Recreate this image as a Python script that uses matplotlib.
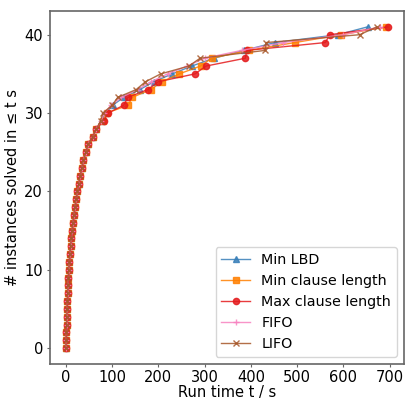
import matplotlib
matplotlib.use("Agg")
import matplotlib.pyplot as plt

# number of instances solved: 0 .. 41
solved = list(range(42))

# the first 29 instances are solved about equally fast by every heuristic
common = [0.3, 0.8, 1.2, 1.7, 2.2, 2.8, 3.4, 4.1, 4.8, 5.6,
          6.5, 7.6, 8.8, 10.2, 11.8, 13.5, 15.5, 17.5, 19.8, 22.3,
          25, 28, 31, 34.5, 38, 43, 48, 58, 66]

min_lbd = common + [78, 86, 101, 125, 160, 190, 230, 272, 320, 385, 452, 588, 652]
min_len = common + [80, 88, 135, 143, 184, 207, 245, 291, 315, 395, 495, 595, 693]
max_len = common + [82, 91, 125, 134, 177, 200, 279, 303, 388, 391, 561, 570, 696]
fifo = common + [76, 83, 98, 120, 155, 184, 220, 262, 300, 380, 470, 600, 680]
lifo = common + [75, 80, 100, 112, 152, 172, 205, 266, 290, 431, 433, 635, 672]

labels = ["Min LBD", "Min clause length", "Max clause length", "FIFO", "LIFO"]
series = [min_lbd, min_len, max_len, fifo, lifo]
markers = ["^", "s", "o", "+", "x"]
colors = ["#377eb8", "#ff7f00", "#e41a1c", "#f781bf", "#a65628"]

plt.rcParams["font.size"] = 10.5

fig = plt.figure(figsize=(4.06, 4.01), dpi=100)
ax = fig.add_axes([0.123, 0.092, 0.872, 0.881])

for times, lab, mk, col in zip(series, labels, markers, colors):
    ax.plot(times, solved, marker=mk, color=col, label=lab,
            linewidth=1.0, markersize=4.5, alpha=0.85)

ax.set_xlabel("Run time t / s", labelpad=0.5)
ax.set_ylabel("# instances solved in \u2264 t s", labelpad=3)
ax.set_xticks([0, 100, 200, 300, 400, 500, 600, 700])
ax.set_yticks([0, 10, 20, 30, 40])

for sp in ax.spines.values():
    sp.set_color("#666666")
    sp.set_linewidth(1.2)
ax.tick_params(colors="#666666", labelcolor="black", length=2.5)
ax.tick_params(axis="x", pad=1.5)
ax.tick_params(axis="y", pad=2.5)

ax.legend(loc="lower right", fontsize=10.3)

fig.savefig("out.png", dpi=100)
